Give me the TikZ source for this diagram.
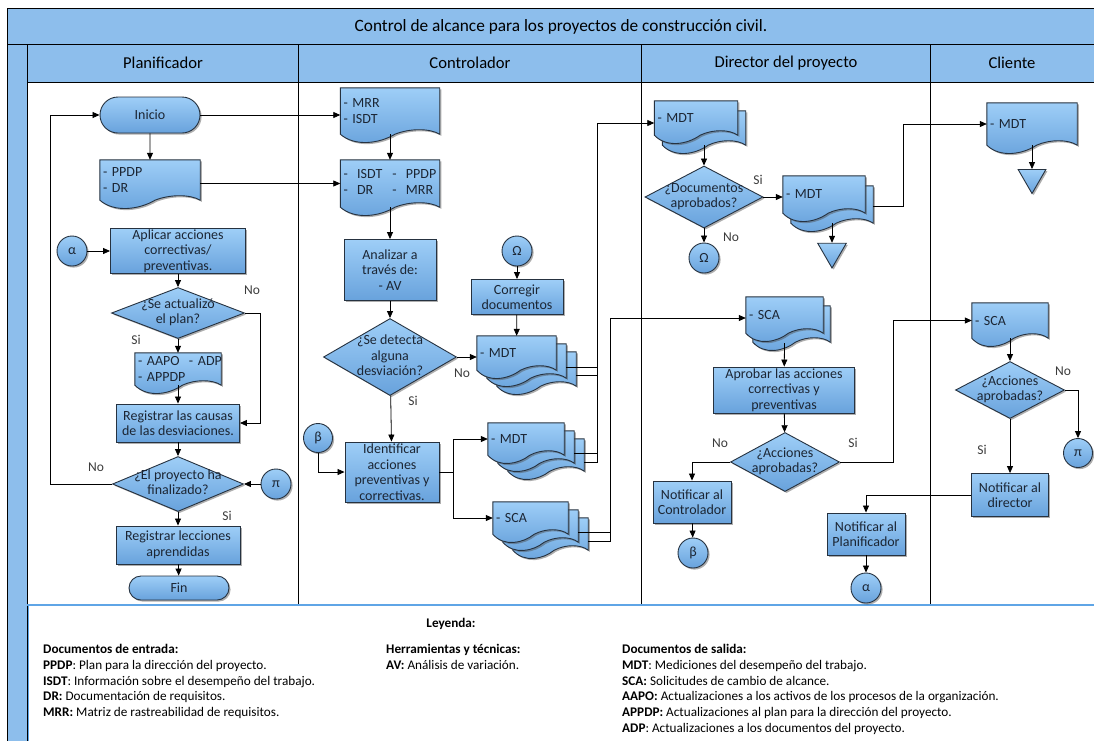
\documentclass[tikz,border=0pt]{standalone}
\usepackage{fontspec}
\setmainfont{Carlito}
\usetikzlibrary{positioning,calc,arrows.meta,shapes.geometric,shapes.misc,shadows}

\definecolor{hdrblue}{RGB}{141,190,236}
\definecolor{shptop}{RGB}{158,206,247}
\definecolor{shpbot}{RGB}{104,162,220}
\definecolor{shpline}{RGB}{38,50,64}
\definecolor{txtdark}{RGB}{28,38,52}
\definecolor{lblgray}{RGB}{60,60,60}
\definecolor{legline}{RGB}{95,165,230}

\pgfdeclarelayer{lanes}
\pgfdeclarelayer{docs}
\pgfsetlayers{lanes,docs,main}

\newcommand{\dfont}{\fontsize{14}{15.5}\selectfont}
\newcommand{\legfont}{\fontsize{13.2}{15.8}\selectfont}
\newcommand{\dtxt}[1]{\makebox[0pt]{\begin{tabular}{@{}c@{}}#1\end{tabular}}}

\tikzset{
  shp/.style={draw=shpline, line width=0.9pt, top color=shptop, bottom color=shpbot,
    drop shadow={shadow xshift=1.6pt, shadow yshift=-1.6pt, opacity=.45, fill=black!70}},
  proc/.style={rectangle, shp, align=center, inner sep=1pt, font=\dfont, text=txtdark},
  term/.style={rounded rectangle, shp, inner sep=0pt, font=\dfont, text=txtdark},
  conn/.style={circle, shp, minimum size=30pt, inner sep=0pt, font=\dfont, text=txtdark},
  dec/.style={diamond, shp, inner sep=0pt, font=\dfont, text=txtdark},
  tri/.style={regular polygon, regular polygon sides=3, shape border rotate=180, shp,
    minimum size=33pt, inner sep=0pt},
  doc/.style={rectangle, inner xsep=3pt, inner ysep=0pt, align=left, font=\dfont, text=txtdark},
  lbl/.style={font=\fontsize{13.5}{15}\selectfont, text=lblgray, inner sep=0pt},
  leg/.style={font=\legfont, text=black, inner sep=0pt, align=left},
  hdr/.style={draw=black, line width=0.8pt, fill=hdrblue},
  lane/.style={draw=black, line width=0.8pt},
  arr/.style={-{Triangle[length=7pt,width=6pt]}, line width=0.8pt},
  ln/.style={line width=0.8pt}
}

% wavy sheet of a document node, shifted by (#2,#3)
\newcommand{\docshape}[3]{%
  \begin{pgfonlayer}{docs}
  \path[shp] ($(#1.north west)+(#2,#3)$) -- ($(#1.north east)+(#2,#3)$)
    -- ($(#1.south east)+(#2,#3)$)
    .. controls ($(#1.south west)!0.9!(#1.south east)+(#2,#3-6)$)
    and ($(#1.south west)!0.7!(#1.south east)+(#2,#3-6)$)
    .. ($(#1.south west)!0.55!(#1.south east)+(#2,#3)$)
    .. controls ($(#1.south west)!0.4!(#1.south east)+(#2,#3+9)$)
    and ($(#1.south west)!0.15!(#1.south east)+(#2,#3+13)$)
    .. ($(#1.south west)+(#2,#3)$) -- cycle;
  \end{pgfonlayer}}

\begin{document}
\begin{tikzpicture}[x=1pt,y=-1pt]
  \useasboundingbox (0,0) rectangle (1094,740);

  % pool and lanes
  \begin{pgfonlayer}{lanes}
    \fill[white] (0,0) rectangle (1094,740);
    \draw[hdr] (7,8) rectangle (1100,44);
    \draw[hdr] (7,44) rectangle (27,745);
    \draw[hdr] (27,44) rectangle (1100,82);
    \draw[lane] (27,82) -- (27,605);
    \draw[lane] (298,44) -- (298,605);
    \draw[lane] (641,44) -- (641,605);
    \draw[lane] (930,44) -- (930,605);
    \draw[draw=legline, line width=2pt] (27,605) -- (1100,605);
    \draw[draw=legline, line width=1pt] (28,605) -- (28,745);
  \end{pgfonlayer}

  \node[font=\fontsize{17.3}{19}\selectfont] (titulo) at (561,27)
    {Control de alcance para los proyectos de construcción civil.};
  \node[font=\fontsize{16.6}{19}\selectfont] (hPlan) at (163,63) {Planificador};
  \node[font=\fontsize{16.6}{19}\selectfont] (hCtrl) at (470,63) {Controlador};
  \node[font=\fontsize{16.6}{19}\selectfont] (hDir) at (786,63) {Director del proyecto};
  \node[font=\fontsize{16.6}{19}\selectfont] (hCli) at (1012,63) {Cliente};

  % Planificador
  \node[term, minimum width=100pt, minimum height=36pt] (inicio) at (150,115) {Inicio};
  \node[doc, text width=94pt, minimum height=40pt] (docPl) at (150,180) {- PPDP\\- DR};
  \node[conn] (alfaA) at (72,251) {α};
  \node[proc, minimum width=135pt, minimum height=43pt] (aplicar) at (178,251)
    {Aplicar acciones\\correctivas/\\preventivas.};
  \node[dec, minimum width=133pt, minimum height=51pt] (actualizo) at (178,313)
    {\dtxt{¿Se actualizó\\el plan?}};
  \node[doc, text width=80pt, minimum height=32pt] (docAct) at (178,369)
    {\mbox{- AAPO\ \ - ADP}\\- APPDP};
  \node[proc, minimum width=123pt, minimum height=38pt] (causas) at (178,423)
    {Registrar las causas\\de las desviaciones.};
  \node[dec, minimum width=131pt, minimum height=55pt] (finalizo) at (178,484)
    {\dtxt{¿El proyecto ha\\finalizado?}};
  \node[conn] (piA) at (276,484) {π};
  \node[proc, minimum width=124pt, minimum height=38pt] (lecciones) at (178,545)
    {Registrar lecciones\\aprendidas};
  \node[term, minimum width=100pt, minimum height=24pt] (fin) at (179,588) {Fin};

  % Controlador
  \node[doc, text width=93pt, minimum height=46pt] (docC1) at (390,111) {- MRR\\- ISDT};
  \node[doc, text width=93pt, minimum height=47pt] (docC2) at (390,183.5)
    {\begin{tabular}{@{}l@{\hspace{10pt}}l@{}}-\ \ ISDT & -\ \ PPDP\\-\ \ DR & -\ \ MRR\end{tabular}};
  \node[proc, minimum width=92pt, minimum height=61pt] (analizar) at (390,270)
    {Analizar a\\través de:\\- AV};
  \node[dec, minimum width=133pt, minimum height=77pt] (desvio) at (390,357)
    {\dtxt{¿Se detecta\\alguna\\desviación?}};
  \node[conn] (omegaA) at (517,251) {Ω};
  \node[proc, minimum width=92pt, minimum height=35pt] (corregir) at (517,297)
    {Corregir\\documentos};
  \node[doc, text width=73pt, minimum height=34pt] (mdtC1) at (516.5,353) {- MDT};
  \node[conn, minimum size=29pt] (betaA) at (318,438) {β};
  \node[proc, minimum width=94pt, minimum height=60pt] (identificar) at (392,472)
    {Identificar\\acciones\\preventivas y\\correctivas.};
  \node[doc, text width=70pt, minimum height=32pt] (mdtC2) at (526,439) {- MDT};
  \node[doc, text width=69pt, minimum height=32pt] (scaC) at (530.5,518) {- SCA};

  % Director del proyecto
  \node[doc, text width=77pt, minimum height=34pt] (mdtD) at (696,118) {- MDT};
  \node[dec, minimum width=118pt, minimum height=62pt] (docsOK) at (704,197)
    {\dtxt{¿Documentos\\aprobados?}};
  \node[conn] (omegaB) at (704,258) {Ω};
  \node[doc, text width=76pt, minimum height=37pt] (mdtD2) at (824,194.5) {- MDT};
  \node[tri] (triD) at (832,251.5) {};
  \node[doc, text width=71pt, minimum height=36pt] (scaD) at (784.5,315) {- SCA};
  \node[proc, minimum width=141pt, minimum height=46pt] (aprobar) at (784,390)
    {Aprobar las acciones\\correctivas y\\preventivas};
  \node[dec, minimum width=109pt, minimum height=59pt] (accD) at (785,462)
    {\dtxt{¿Acciones\\aprobadas?}};
  \node[proc, minimum width=78pt, minimum height=42pt] (notCtrl) at (692,502)
    {Notificar al\\Controlador};
  \node[conn] (betaB) at (693,553) {β};
  \node[proc, minimum width=78pt, minimum height=42pt] (notPlan) at (866,534)
    {Notificar al\\Planificador};
  \node[conn] (alfaB) at (866,588) {α};

  % Cliente
  \node[doc, text width=84pt, minimum height=42pt] (mdtCl) at (1032,124) {- MDT};
  \node[tri, minimum size=32pt] (triCl) at (1032,177.5) {};
  \node[doc, text width=70pt, minimum height=35pt] (scaCl) at (1010,320.5) {- SCA};
  \node[dec, minimum width=109pt, minimum height=57pt] (accCl) at (1010,390)
    {\dtxt{¿Acciones\\aprobadas?}};
  \node[conn, minimum size=29pt] (piB) at (1078,453) {π};
  \node[proc, minimum width=77pt, minimum height=43pt] (notDir) at (1010,495)
    {Notificar al\\director};

  % document sheets
  \docshape{docPl}{0}{0}
  \docshape{docC1}{0}{0}
  \docshape{docC2}{0}{0}
  \docshape{docAct}{0}{0}
  \docshape{mdtC1}{20}{16}
  \docshape{mdtC1}{10}{8}
  \docshape{mdtC1}{0}{0}
  \docshape{mdtC2}{20}{16}
  \docshape{mdtC2}{10}{8}
  \docshape{mdtC2}{0}{0}
  \docshape{scaC}{20}{16}
  \docshape{scaC}{10}{8}
  \docshape{scaC}{0}{0}
  \docshape{mdtD}{8}{10}
  \docshape{mdtD}{0}{0}
  \docshape{mdtD2}{8}{10}
  \docshape{mdtD2}{0}{0}
  \docshape{scaD}{7}{9}
  \docshape{scaD}{0}{0}
  \docshape{mdtCl}{0}{0}
  \docshape{scaCl}{0}{0}

  % free ends on the stacked sheets
  \coordinate (mdtC1b) at ($(mdtC1.east)+(10,14)$);
  \coordinate (mdtC1c) at ($(mdtC1.east)+(20,22)$);
  \coordinate (mdtC2b) at ($(mdtC2.east)+(10,14)$);
  \coordinate (mdtC2c) at ($(mdtC2.east)+(20,23)$);
  \coordinate (scaCb) at ($(scaC.east)+(10,14)$);
  \coordinate (scaCc) at ($(scaC.east)+(20,23)$);
  \coordinate (busA) at (597,123);
  \coordinate (busB) at (610,318);
  \coordinate (mdtDb) at ($(mdtD.south)+(8,10)$);
  \coordinate (mdtD2b) at ($(mdtD2.south)+(8,10)$);
  \coordinate (mdtD2r) at ($(mdtD2.east)+(8,12)$);
  \coordinate (scaDb) at ($(scaD.south)+(0,10)$);

  % Planificador connectors
  \draw[arr] (inicio) -- (docPl);
  \draw[arr] (inicio.east) -- (inicio.east -| docC1.west);
  \draw[arr] (docPl.east |- docC2.west) -- (docC2.west);
  \draw[arr] (alfaA) -- (aplicar);
  \draw[arr] (aplicar) -- (actualizo);
  \draw[arr] (actualizo) -- (docAct);
  \draw[arr] (actualizo.east) -- ++(15,0) |- (causas.east);
  \draw[arr] (docAct) -- (causas);
  \draw[arr] (causas) -- (finalizo);
  \draw[arr] (finalizo.west) -- ++(-62,0) |- (inicio.west);
  \draw[arr] (piA) -- (finalizo);
  \draw[arr] (finalizo) -- (lecciones);
  \draw[arr] (lecciones) -- (fin);
  \node[lbl] (noA) at (252,290) {No};
  \node[lbl] (siA) at (136,340) {Si};
  \node[lbl] (noB) at (96,467) {No};
  \node[lbl] (siB) at (227,516) {Si};

  % Controlador connectors
  \draw[arr] (docC1) -- (docC2);
  \draw[arr] (docC2) -- (analizar);
  \draw[arr] (analizar) -- (desvio);
  \draw[arr] (omegaA) -- (corregir);
  \draw[arr] (corregir) -- (mdtC1);
  \draw[arr] (desvio.east) -- (desvio.east -| mdtC1.west);
  \draw[arr] (desvio) -- (identificar);
  \draw[arr] (betaA) |- (identificar.west);
  \draw[arr] (identificar.east) -- ++(14,0) |- (mdtC2.west);
  \draw[arr] (identificar.east) -- ++(14,0) |- (scaC.west);
  \draw[ln] (mdtC1b) -- (mdtC1b -| busA);
  \draw[ln] (mdtC1c) -- (mdtC1c -| busA);
  \draw[ln] (mdtC2b) -- (mdtC2b -| busA);
  \draw[arr] (mdtC2c) -| (busA) -- (busA -| mdtD.west);
  \draw[ln] (scaCb) -- (scaCb -| busB);
  \draw[arr] (scaCc) -| (busB) -- (busB -| scaD.west);
  \node[lbl] (noC) at (462,373) {No};
  \node[lbl] (siC) at (413,401) {Si};

  % Director connectors
  \draw[arr] (mdtDb) -- (docsOK);
  \draw[arr] (docsOK) -- (omegaB);
  \draw[arr] (docsOK.east) -- (docsOK.east -| mdtD2.west);
  \draw[arr] (mdtD2b) -- (triD.side 2);
  \draw[arr] (mdtD2r) -- ++(30,0) |- (mdtCl.west);
  \draw[arr] (scaDb) -- (aprobar);
  \draw[arr] (aprobar) -- (accD);
  \draw[arr] (accD.west) -| (notCtrl.north);
  \draw[arr] (notCtrl) -- (betaB);
  \draw[arr] (accD.east) -- ++(53,0) |- (scaCl.west);
  \draw[arr] (notPlan) -- (alfaB);
  \node[lbl] (siD) at (758,180) {Si};
  \node[lbl] (noD) at (731,237) {No};
  \node[lbl] (noE) at (720,443) {No};
  \node[lbl] (siE) at (853,443) {Si};

  % Cliente connectors
  \draw[arr] (mdtCl) -- (triCl.side 2);
  \draw[arr] (scaCl) -- (accCl);
  \draw[arr] (accCl.east) -| (piB.north);
  \draw[arr] (accCl) -- (notDir);
  \draw[arr] (notDir.west) -| (notPlan.north);
  \node[lbl] (noF) at (1063,371) {No};
  \node[lbl] (siF) at (982,450) {Si};

  % legend
  \node[leg] (leyenda) at (451,624) {\textbf{Leyenda:}};
  \node[leg, anchor=north west] (entrada) at (43,644)
    {\textbf{Documentos de entrada:}\\
     \textbf{PPDP}: Plan para la dirección del proyecto.\\
     \textbf{ISDT}: Información sobre el desempeño del trabajo.\\
     \textbf{DR:} Documentación de requisitos.\\
     \textbf{MRR:} Matriz de rastreabilidad de requisitos.};
  \node[leg, anchor=north west] (herram) at (386,644)
    {\textbf{Herramientas y técnicas:}\\
     \textbf{AV:} Análisis de variación.};
  \node[leg, anchor=north west] (salida) at (622,644)
    {\textbf{Documentos de salida:}\\
     \textbf{MDT}: Mediciones del desempeño del trabajo.\\
     \textbf{SCA:} Solicitudes de cambio de alcance.\\
     \textbf{AAPO:} Actualizaciones a los activos de los procesos de la organización.\\
     \textbf{APPDP:} Actualizaciones al plan para la dirección del proyecto.\\
     \textbf{ADP}: Actualizaciones a los documentos del proyecto.};
\end{tikzpicture}
\end{document}
